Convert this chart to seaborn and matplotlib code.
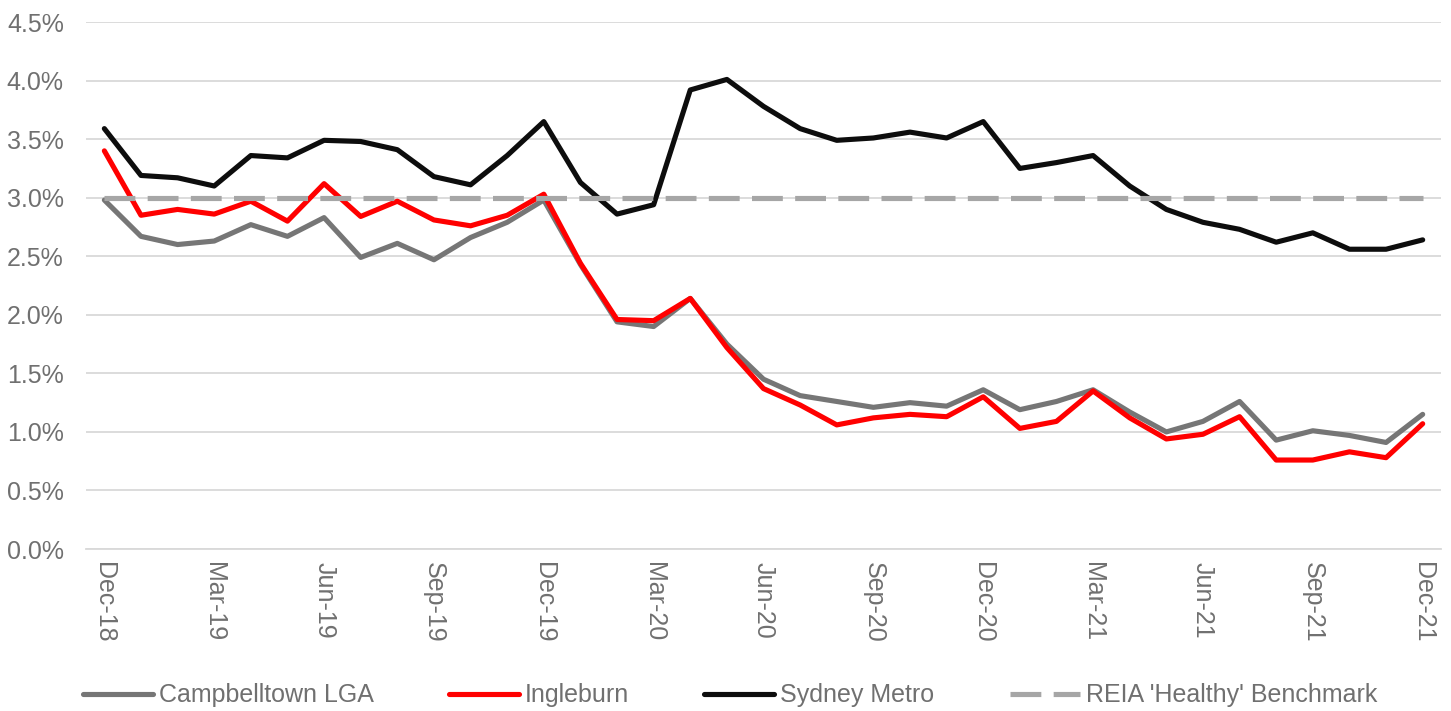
import numpy as np
import pandas as pd
import matplotlib
matplotlib.use('Agg')
import matplotlib.pyplot as plt
import seaborn as sns
from matplotlib.ticker import FuncFormatter, FixedLocator

# vacancy rate data, Dec-18 .. Dec-21 (monthly, %)
months = pd.date_range('2018-12-01', periods=37, freq='MS').strftime('%b-%y').tolist()

campbelltown = [2.98, 2.67, 2.60, 2.63, 2.77, 2.67, 2.83, 2.49, 2.61, 2.47,
                2.66, 2.79, 2.98, 2.43, 1.94, 1.90, 2.14, 1.75, 1.45, 1.31,
                1.26, 1.21, 1.25, 1.22, 1.36, 1.19, 1.26, 1.36, 1.17, 1.00,
                1.09, 1.26, 0.93, 1.01, 0.97, 0.91, 1.15]
ingleburn = [3.40, 2.85, 2.90, 2.86, 2.97, 2.80, 3.12, 2.84, 2.97, 2.81,
             2.76, 2.85, 3.03, 2.44, 1.96, 1.95, 2.14, 1.72, 1.37, 1.23,
             1.06, 1.12, 1.15, 1.13, 1.30, 1.03, 1.09, 1.35, 1.12, 0.94,
             0.98, 1.13, 0.76, 0.76, 0.83, 0.78, 1.07]
sydney_metro = [3.59, 3.19, 3.17, 3.10, 3.36, 3.34, 3.49, 3.48, 3.41, 3.18,
                3.11, 3.36, 3.65, 3.13, 2.86, 2.94, 3.92, 4.01, 3.78, 3.59,
                3.49, 3.51, 3.56, 3.51, 3.65, 3.25, 3.30, 3.36, 3.10, 2.90,
                2.79, 2.73, 2.62, 2.70, 2.56, 2.56, 2.64]
benchmark = [3.0, 3.0, 3.0, 3.0, 3.0, 3.0, 3.0, 3.0, 3.0, 3.0,
             3.0, 3.0, 3.0, 3.0, 3.0, 3.0, 3.0, 3.0, 3.0, 3.0,
             3.0, 3.0, 3.0, 3.0, 3.0, 3.0, 3.0, 3.0, 3.0, 3.0,
             3.0, 3.0, 3.0, 3.0, 3.0, 3.0, 3.0]
tick_labels = ['Dec-18', 'Mar-19', 'Jun-19', 'Sep-19', 'Dec-19', 'Mar-20', 'Jun-20',
               'Sep-20', 'Dec-20', 'Mar-21', 'Jun-21', 'Sep-21', 'Dec-21']

df = pd.DataFrame({'month': months,
                   'Campbelltown LGA': campbelltown,
                   'Ingleburn': ingleburn,
                   'Sydney Metro': sydney_metro,
                   "REIA 'Healthy' Benchmark": benchmark})
df['pos'] = np.arange(len(df))

sns.set_style('white')
plt.rcParams['font.family'] = ['Liberation Sans', 'DejaVu Sans']
txt_col = '#707070'
grid_col = '#D9D9D9'

fig = plt.figure(figsize=(14.51, 7.11), dpi=100)
ax = fig.add_axes([0.0593, 0.2278, 0.9338, 0.7412])

styles = [('Campbelltown LGA', '#767676', None),
          ('Ingleburn', '#FF0000', None),
          ('Sydney Metro', '#0D0D0D', None),
          ("REIA 'Healthy' Benchmark", '#A6A6A6', (6, 2.4))]
for name, col, dash in styles:
    sns.lineplot(data=df, x='pos', y=name, color=col, lw=3.7, label=name, ax=ax)
    line = ax.lines[-1]
    line.set_solid_capstyle('round')
    line.set_solid_joinstyle('round')
    if dash:
        line.set_dashes(dash)

ax.set_xlim(-0.5, 36.5)
ax.set_ylim(0, 4.5)
ax.set_yticks(np.arange(0, 4.51, 0.5))
ax.yaxis.set_major_formatter(FuncFormatter(lambda v, p: '{:.1f}%'.format(v)))
ax.grid(axis='y', color=grid_col, lw=1.3)
ax.set_axisbelow(True)

ax.set_xticks(np.arange(0, 37, 3))
ax.set_xticklabels(tick_labels, rotation=270, ha='center', va='top')
ax.xaxis.set_minor_locator(FixedLocator(np.arange(-0.5, 36, 3)))
ax.tick_params(axis='x', which='major', length=0, pad=9, labelsize=18, labelcolor=txt_col)
ax.tick_params(axis='x', which='minor', length=5, width=1.3, color=grid_col, direction='out')
ax.tick_params(axis='y', length=0, pad=16, labelsize=18, labelcolor=txt_col)
ax.set_xlabel('')
ax.set_ylabel('')

for s in ['top', 'right', 'left']:
    ax.spines[s].set_visible(False)
ax.spines['bottom'].set_color(grid_col)
ax.spines['bottom'].set_linewidth(1.3)

handles, labels = ax.get_legend_handles_labels()
ax.get_legend().remove()
leg = fig.legend(handles, labels, loc='center', bbox_to_anchor=(0.503, 0.022), ncol=4,
                 frameon=False, fontsize=18, handlelength=2.8, handletextpad=0.25,
                 columnspacing=3.0, labelcolor=txt_col)

fig.savefig('out.png', dpi=100)
plt.close()
